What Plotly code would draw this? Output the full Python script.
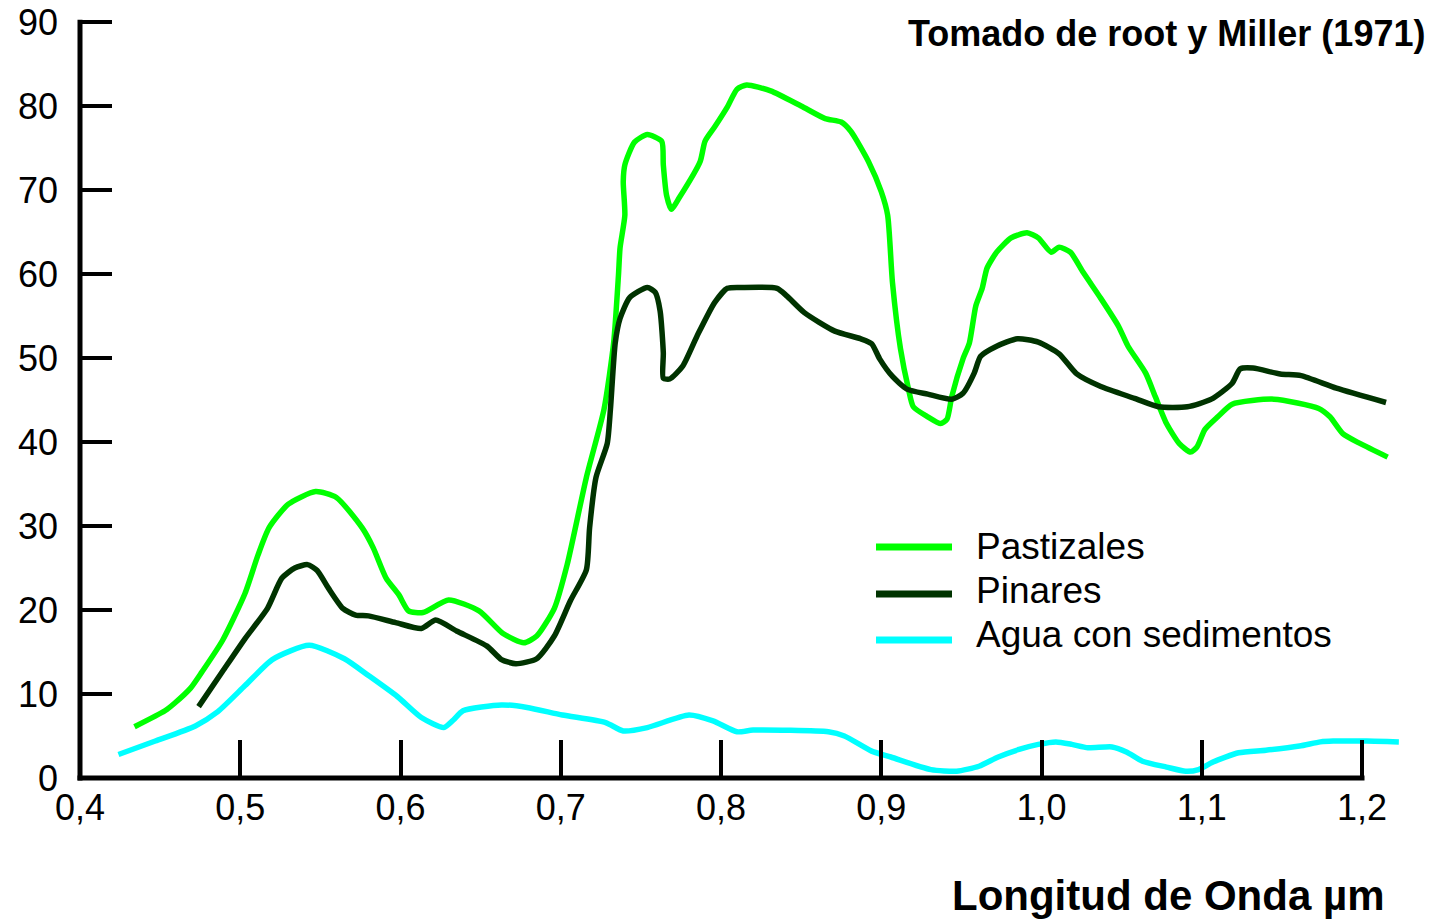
import plotly.graph_objects as go

# ---------------- data (wavelength in µm, reflectance in %) ----------------
wl_pastizales = [0.434, 0.453, 0.459, 0.469, 0.476, 0.489, 0.503, 0.511, 0.518, 0.530, 0.547,
                 0.560, 0.576, 0.583, 0.591, 0.599, 0.605, 0.614, 0.630, 0.649, 0.664,
                 0.677, 0.685, 0.696, 0.704, 0.716, 0.727, 0.733, 0.736, 0.737, 0.740,
                 0.739, 0.740, 0.746, 0.754, 0.763, 0.764, 0.766, 0.769, 0.774, 0.787,
                 0.790, 0.796, 0.804, 0.810, 0.816, 0.831, 0.850, 0.865, 0.875, 0.881,
                 0.892, 0.900, 0.904, 0.907, 0.912, 0.917, 0.920, 0.929, 0.937, 0.941,
                 0.944, 0.951, 0.955, 0.959, 0.963, 0.966, 0.972, 0.981, 0.991, 0.998,
                 1.006, 1.011, 1.018, 1.026, 1.037, 1.048, 1.054, 1.065, 1.071, 1.078,
                 1.086, 1.093, 1.097, 1.102, 1.110, 1.119, 1.145, 1.173, 1.180, 1.188,
                 1.199, 1.216]
refl_pastizales = [6.1, 8.0, 8.9, 10.7, 12.6, 16.4, 22.0, 26.5, 29.8, 32.6, 34.1,
                   33.4, 29.8, 27.4, 23.8, 21.8, 19.9, 19.7, 21.2, 19.9, 17.2,
                   16.1, 16.9, 20.2, 25.4, 35.8, 43.9, 51.8, 59.8, 63.1, 67.0,
                   71.0, 73.0, 75.7, 76.6, 75.8, 73.0, 69.4, 67.7, 69.1, 73.4,
                   75.8, 77.5, 79.9, 82.0, 82.5, 81.8, 80.0, 78.5, 78.1, 77.0,
                   73.4, 69.8, 67.0, 59.0, 51.1, 46.3, 44.2, 43.0, 42.2, 42.7,
                   45.4, 49.9, 51.8, 56.2, 58.3, 60.7, 62.6, 64.3, 64.9, 64.3,
                   62.6, 63.2, 62.6, 60.2, 57.1, 53.8, 51.4, 48.2, 45.4, 42.2,
                   39.8, 38.8, 39.4, 41.5, 43.0, 44.5, 45.1, 44.0, 43.0, 41.0,
                   39.8, 38.2]

wl_pinares = [0.474, 0.489, 0.503, 0.517, 0.526, 0.534, 0.542, 0.548, 0.555, 0.564,
              0.572, 0.580, 0.597, 0.613, 0.622, 0.635, 0.654, 0.663, 0.672, 0.685,
              0.696, 0.706, 0.716, 0.718, 0.722, 0.729, 0.731, 0.734, 0.737, 0.743,
              0.754, 0.759, 0.762, 0.764, 0.764, 0.768, 0.776, 0.785, 0.796, 0.804,
              0.813, 0.835, 0.841, 0.852, 0.871, 0.887, 0.894, 0.899, 0.907, 0.916,
              0.929, 0.944, 0.951, 0.958, 0.962, 0.972, 0.985, 0.998, 1.011, 1.022,
              1.037, 1.058, 1.073, 1.091, 1.106, 1.119, 1.124, 1.132, 1.149, 1.162,
              1.184, 1.215]
refl_pinares = [8.5, 12.7, 16.6, 20.2, 23.8, 25.0, 25.4, 24.7, 22.6, 20.2,
                19.4, 19.3, 18.5, 17.8, 18.8, 17.5, 15.7, 14.1, 13.6, 14.2,
                16.9, 21.1, 24.8, 29.8, 35.8, 39.8, 43.9, 51.8, 54.7, 57.2,
                58.4, 57.8, 55.6, 50.6, 47.6, 47.5, 49.0, 52.6, 56.6, 58.3,
                58.4, 58.3, 57.4, 55.4, 53.2, 52.3, 51.7, 49.9, 47.8, 46.3,
                45.7, 45.1, 45.8, 48.2, 50.2, 51.4, 52.3, 51.9, 50.5, 48.1,
                46.6, 45.2, 44.2, 44.2, 45.1, 47.0, 48.7, 48.8, 48.1, 47.9,
                46.4, 44.7]

wl_agua = [0.424, 0.447, 0.472, 0.486, 0.503, 0.520, 0.543, 0.565, 0.580, 0.598,
           0.613, 0.627, 0.633, 0.639, 0.663, 0.679, 0.701, 0.728, 0.739, 0.754,
           0.780, 0.795, 0.810, 0.820, 0.867, 0.877, 0.894, 0.906, 0.931, 0.947,
           0.961, 0.973, 0.986, 0.998, 1.009, 1.019, 1.029, 1.044, 1.053, 1.063,
           1.078, 1.090, 1.098, 1.107, 1.123, 1.140, 1.161, 1.174, 1.182, 1.203,
           1.223]
refl_agua = [2.8, 4.4, 6.2, 7.9, 11.0, 14.1, 15.8, 14.2, 12.2, 9.7,
             7.2, 6.0, 6.9, 8.0, 8.7, 8.4, 7.5, 6.6, 5.6, 6.0,
             7.5, 6.8, 5.5, 5.7, 5.5, 5.0, 3.2, 2.5, 1.0, 0.8,
             1.4, 2.5, 3.4, 4.0, 4.3, 4.0, 3.6, 3.7, 3.1, 2.0,
             1.3, 0.8, 1.0, 1.9, 3.0, 3.3, 3.8, 4.3, 4.4, 4.4,
             4.3]

series_names = ["Pastizales", "Pinares", "Agua con sedimentos"]
series_colors = ["#00FF00", "#003300", "#00FFFF"]

x_tickvals = [0.4, 0.5, 0.6, 0.7, 0.8, 0.9, 1.0, 1.1, 1.2]
x_ticktext = ["0,4", "0,5", "0,6", "0,7", "0,8", "0,9", "1,0", "1,1", "1,2"]
y_tickvals = [0, 10, 20, 30, 40, 50, 60, 70, 80, 90]

title_text = "Tomado de root y Miller (1971)"
xaxis_title = "Longitud de Onda µm"

# ---------------- layout geometry (page pixels) ----------------
W, H = 1435, 922
L, R, T, B = 80, 1410, 21, 778   # plot area in pixels
X_RANGE = [0.4, 1.22995]
Y_RANGE = [0, 90.12]
FONT = "Liberation Sans, Arial, Helvetica, sans-serif"


def paper_x(p):
    return (p - L) / (R - L)


def paper_y(p):
    return (B - p) / (B - T)


def data_to_paper_x(v):
    return (v - X_RANGE[0]) / (X_RANGE[1] - X_RANGE[0])


def data_to_paper_y(v):
    return (v - Y_RANGE[0]) / (Y_RANGE[1] - Y_RANGE[0])


fig = go.Figure()
for wl, refl, name, color in zip(
    [wl_pastizales, wl_pinares, wl_agua],
    [refl_pastizales, refl_pinares, refl_agua],
    series_names, series_colors,
):
    fig.add_trace(go.Scatter(
        x=wl, y=refl, mode="lines", name=name,
        line=dict(color=color, width=5.5, shape="spline", smoothing=0.6),
        showlegend=False, hoverinfo="skip",
    ))

shapes = []
# axis lines (y axis from 0 to 90, x axis from 0.4 to 1.2)
shapes.append(dict(type="line", xref="paper", yref="paper",
                   x0=0, x1=0, y0=paper_y(B + 2.5),
                   y1=data_to_paper_y(90) + (2.2 / (B - T)),
                   line=dict(color="black", width=5), layer="above"))
shapes.append(dict(type="line", xref="paper", yref="paper",
                   x0=paper_x(L - 2.5), x1=data_to_paper_x(1.2) + paper_x(L + 2.5),
                   y0=0, y1=0,
                   line=dict(color="black", width=5), layer="above"))

# manual legend
leg_line_y = [547, 594, 640]
leg_text_y = [546, 590, 634]
annotations = []
for name, color, ly, ty in zip(series_names, series_colors, leg_line_y, leg_text_y):
    shapes.append(dict(type="line", xref="paper", yref="paper",
                       x0=paper_x(876), x1=paper_x(952), y0=paper_y(ly), y1=paper_y(ly),
                       line=dict(color=color, width=7)))
    annotations.append(dict(text=name, xref="paper", yref="paper",
                            x=paper_x(974), y=paper_y(ty), xanchor="left", yanchor="middle",
                            showarrow=False, font=dict(family=FONT, size=37, color="black")))

annotations.append(dict(text="<b>" + title_text + "</b>", xref="paper", yref="paper",
                        x=paper_x(1427), y=paper_y(33), xanchor="right", yanchor="middle",
                        showarrow=False, font=dict(family=FONT, size=36, color="black")))
annotations.append(dict(text="<b>" + xaxis_title + "</b>", xref="paper", yref="paper",
                        x=paper_x(1387), y=paper_y(896), xanchor="right", yanchor="middle",
                        showarrow=False, font=dict(family=FONT, size=42, color="black")))

fig.update_layout(
    width=W, height=H,
    margin=dict(l=L, r=W - R, t=T, b=H - B, pad=0, autoexpand=False),
    paper_bgcolor="white", plot_bgcolor="white",
    showlegend=False, hovermode=False,
    shapes=shapes, annotations=annotations,
    font=dict(family=FONT, color="black"),
)
fig.update_xaxes(
    range=X_RANGE, showgrid=False, zeroline=False, showline=False,
    tickmode="array", tickvals=x_tickvals, ticktext=x_ticktext,
    ticks="inside", ticklen=38, tickwidth=4, tickcolor="black",
    tickfont=dict(family=FONT, size=36, color="black"), ticklabelstandoff=5,
    ticklabeloverflow="allow", automargin=False,
)
fig.update_yaxes(
    range=Y_RANGE, showgrid=False, zeroline=False, showline=False,
    tickmode="array", tickvals=y_tickvals,
    ticks="inside", ticklen=32, tickwidth=4.5, tickcolor="black",
    tickfont=dict(family=FONT, size=36, color="black"), ticklabelstandoff=21,
    ticklabeloverflow="allow", automargin=False,
)

fig.write_html("out.html", config={"displayModeBar": False, "staticPlot": True})

# remove the default page margin so the figure fills the window exactly
with open("out.html", "r", encoding="utf-8") as f:
    html = f.read()
html = html.replace("<body>", '<body style="margin:0; overflow:hidden;">', 1)
with open("out.html", "w", encoding="utf-8") as f:
    f.write(html)
